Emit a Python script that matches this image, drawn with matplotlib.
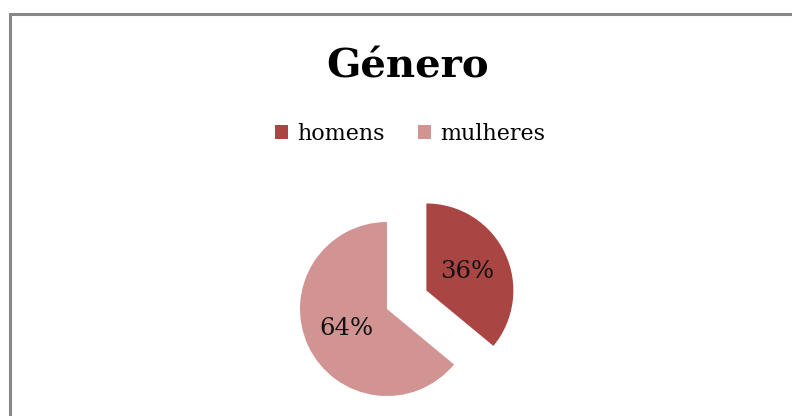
import matplotlib.pyplot as plt
from matplotlib.patches import Rectangle

labels = ["homens", "mulheres"]
values = [36, 64]
colors = ["#A94644", "#D19493"]

W, H = 792, 416
fig = plt.figure(figsize=(W / 100, H / 100), dpi=100)

# grey frame (only top and left edges visible in the crop)
fig.patches.append(Rectangle((10 / W, -0.1), 1.0, (H - 14) / H + 0.1,
                             transform=fig.transFigure, fill=False,
                             edgecolor="#878787", linewidth=2.2))

fig.text(408 / W, 1 - 66 / H, "Género", ha="center", va="center",
         fontsize=29, fontweight="bold", family="DejaVu Serif")

# pie axes: centre at (387, 309) px, radius 87 px
R = 87
half = 170
ax = fig.add_axes([(387 - half) / W, (H - 309 - half) / H, 2 * half / W, 2 * half / H])

wedges, texts, autotexts = ax.pie(
    values, colors=colors, startangle=90, counterclock=False,
    explode=[0.5, 0], autopct="%d%%", pctdistance=0.52,
    textprops={"fontsize": 17.5, "family": "DejaVu Serif", "color": "#111111"},
    wedgeprops={"linewidth": 0},
)
ax.set_xlim(-half / R, half / R)
ax.set_ylim(-half / R, half / R)
ax.axis("off")

fig.legend(wedges, labels, loc="center", bbox_to_anchor=(410 / W, 1 - 134 / H),
           ncol=2, frameon=False, handlelength=0.6, handleheight=0.6,
           handletextpad=0.4, columnspacing=1.5,
           prop={"family": "DejaVu Serif", "size": 16})

fig.savefig("out.png", dpi=100)
